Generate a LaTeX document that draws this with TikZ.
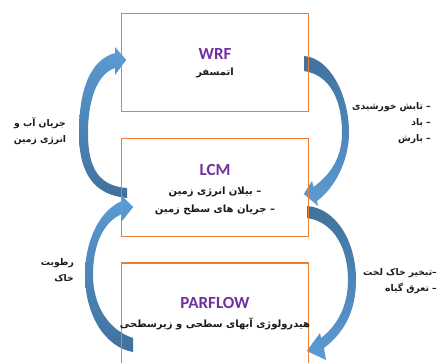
\documentclass[tikz,border=0pt]{standalone}
\usepackage{fontspec}
\setmainfont{Carlito}
\newfontfamily\farsifont[Script=Arabic]{DejaVu Sans}
\TeXXeTstate=1
\usetikzlibrary{calc}
\definecolor{BoxOrange}{HTML}{ED7D31}
\definecolor{TitlePurple}{HTML}{7030A0}
\definecolor{ArrowLight}{HTML}{5B9BD5}
\definecolor{ArrowDark}{HTML}{41719C}
\definecolor{TextBlack}{HTML}{1A1A1A}
\tikzset{
    % Model box style
    modelbox/.style={
        draw=BoxOrange,
        line width=1.6pt,
        minimum width=187pt,
        minimum height=98pt,
        inner sep=0pt
    },
    % Model name style
    titletext/.style={
        text=TitlePurple,
        font=\bfseries\fontsize{17}{20}\selectfont,
        inner sep=0pt
    },
    % Text inside the boxes
    desctext/.style={
        text=TextBlack,
        font=\farsifont\bfseries\fontsize{10}{18}\selectfont,
        align=center,
        inner sep=0pt
    },
    % Text beside the arrows
    sidetext/.style={
        text=TextBlack,
        font=\farsifont\bfseries\fontsize{9.2}{16}\selectfont,
        inner sep=0pt
    },
    % Curved block arrow
    curvearrow/.style={
        draw=none
    },
    % Head at the top
    headup/.style={
        curvearrow,
        top color=ArrowLight,
        bottom color=ArrowDark
    },
    % Head at the bottom
    headdown/.style={
        curvearrow,
        top color=ArrowDark,
        bottom color=ArrowLight
    }
}

\begin{document}
\begin{tikzpicture}[x=1pt, y=-1pt]
    \useasboundingbox (0,0) rectangle (438,363);
    \clip (0,0) rectangle (438,363);

    \node[modelbox] (wrf) at (215,62.5) {};
    \node[modelbox] (lcm) at (215,187.5) {};
    \node[modelbox, minimum height=130pt] (parflow) at (215,328) {};

    % arrow tips
    \coordinate (ultip) at ([shift={(5.5pt,2.5pt)}]wrf.west);
    \coordinate (lltip) at ([shift={(12.5pt,-19.5pt)}]lcm.west);
    \coordinate (urtip) at ([shift={(-5.5pt,-6.5pt)}]lcm.east);
    \coordinate (lrtip) at ([shift={(-2.5pt,-23pt)}]parflow.east);

    % LCM -> WRF
    \path[headup] (127,198) .. controls (95,195) and (79,175) .. (79,133)
        .. controls (79,90) and (90,60) .. (115,53) -- (115,47) -- (ultip)
        -- (115,75) -- (115,68) .. controls (97,74) and (88,100) .. (88,133)
        .. controls (88,170) and (100,186) .. (127,188) -- cycle;
    % PARFLOW -> LCM
    \path[headup] (133,352) .. controls (105,347) and (85,315) .. (85,275)
        .. controls (85,240) and (100,210) .. (122,201) -- (122,196) -- (lltip)
        -- (122,221) -- (122,214) .. controls (103,222) and (93,245) .. (93,275)
        .. controls (93,305) and (108,330) .. (133,338) -- cycle;
    % WRF -> LCM
    \path[headdown] (304,56) .. controls (330,58) and (349,95) .. (349,133)
        .. controls (349,160) and (335,188) .. (317,201) -- (318,206) -- (urtip)
        -- (312,181) -- (313.5,187) .. controls (330,175) and (342,158) .. (342,133)
        .. controls (342,100) and (330,75) .. (304,71) -- cycle;
    % LCM -> PARFLOW
    \path[headdown] (307,206) .. controls (335,208) and (356,240) .. (356,280)
        .. controls (356,310) and (345,332) .. (324,348) -- (326,360) -- (lrtip)
        -- (320,333) -- (321,338) .. controls (338,325) and (348,305) .. (348,280)
        .. controls (348,250) and (335,222) .. (307,218) -- cycle;

    % redraw the box edges over the arrows
    \node[modelbox] at (wrf) {};
    \node[modelbox] at (lcm) {};
    \node[modelbox, minimum height=130pt] at (parflow) {};

    \node[titletext] (wrftitle) at (215,54) {WRF};
    \node[desctext] (wrfdesc) at (215,73) {\beginR اتمسفر\endR};
    \node[titletext] (lcmtitle) at (215,170) {LCM};
    \node[desctext] (lcmdesc) at (215,201) {\beginR – بیلان انرژی زمین\endR\\\beginR – جریان های سطح زمین\endR};
    \node[titletext] (parflowtitle) at (215,303) {PARFLOW};
    \node[desctext] (parflowdesc) at (215,324) {\beginR هیدرولوژی آبهای سطحی و زیرسطحی\endR};

    \node[sidetext, align=center] (waterlabel) at (40,131) {\beginR جریان آب و\endR\\\beginR انرژی زمین\endR};
    \node[sidetext, align=right, anchor=east] (forcinglabel) at (431,123) {\beginR – تابش خورشیدی\endR\\\beginR – باد\endR\\\beginR – بارش\endR};
    \node[sidetext, align=right, anchor=east] (moisturelabel) at (74,270) {\beginR رطوبت\endR\\\beginR خاک\endR};
    \node[sidetext, align=right, anchor=east] (fluxlabel) at (437,281) {\beginR –تبخیر خاک لخت\endR\\\beginR – تعرق گیاه\endR};
\end{tikzpicture}
\end{document}
